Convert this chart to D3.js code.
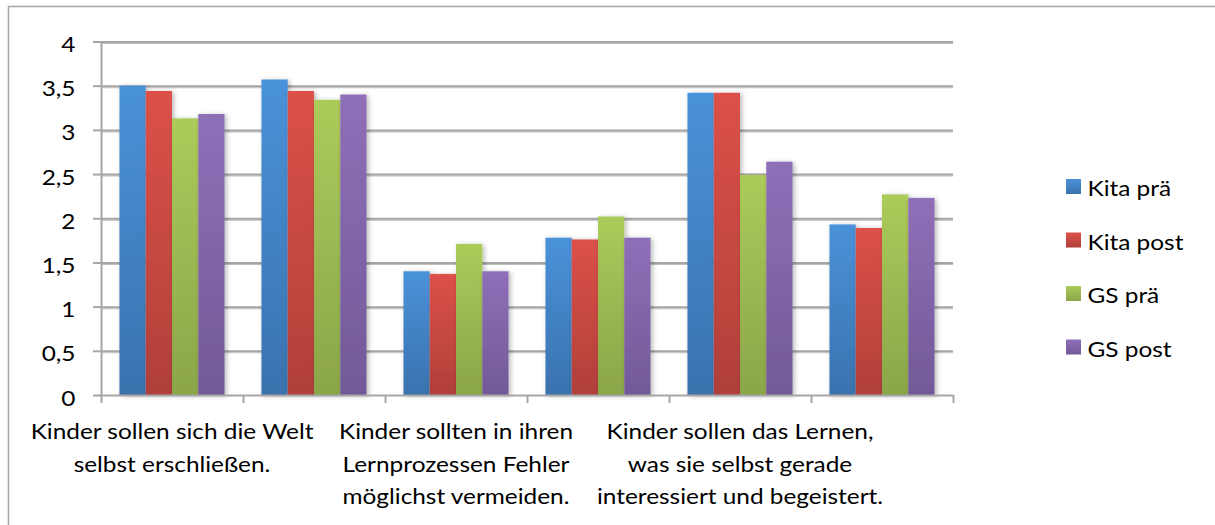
<!DOCTYPE html>
<html>
<head>
<meta charset="utf-8">
<script src="https://cdn.jsdelivr.net/npm/d3@7/dist/d3.min.js"></script>
<style>
  html, body { margin: 0; padding: 0; background: #fff; }
  svg { display: block; }
  text { font-family: Lato, "Open Sans", sans-serif; fill: #000; }
</style>
</head>
<body>
<svg id="chart" width="1215" height="525"></svg>
<script>
// ---- data ----
const categories = ["c1", "c2", "c3", "c4", "c5", "c6"];
const categoryLabels = [
  ["Kinder sollen sich die Welt", "selbst erschließen."],
  null,
  ["Kinder sollten in ihren", "Lernprozessen Fehler", "möglichst vermeiden."],
  null,
  ["Kinder sollen das Lernen,", "was sie selbst gerade", "interessiert und begeistert."],
  null
];
const seriesNames = ["Kita prä", "Kita post", "GS prä", "GS post"];
const kitaPrae  = [3.50, 3.57, 1.40, 1.78, 3.42, 1.93];
const kitaPost  = [3.44, 3.44, 1.37, 1.76, 3.42, 1.89];
const gsPrae    = [3.13, 3.34, 1.71, 2.02, 2.49, 2.27];
const gsPost    = [3.18, 3.40, 1.40, 1.78, 2.64, 2.23];
const yTicks = [0, 0.5, 1, 1.5, 2, 2.5, 3, 3.5, 4];

const seriesValues = [kitaPrae, kitaPost, gsPrae, gsPost];
const colorsTop = ["#4a92d9", "#dc5148", "#abcb5a", "#8f6fb8"];
const colorsBot = ["#3a72ae", "#b0403a", "#8ba54a", "#725998"];

// ---- layout ----
const svg = d3.select("#chart");
const pLeft = 101, pRight = 953, pTop = 41.5, pBottom = 395;
const FS = "20.5px", SX = 1.19;

// outer frame
svg.append("path")
  .attr("d", "M8.5,525 L8.5,6.5 L1215,6.5")
  .attr("fill", "none").attr("stroke", "#a8a8a8").attr("stroke-width", 1.5);

const defs = svg.append("defs");
seriesNames.forEach((s, i) => {
  const g = defs.append("linearGradient").attr("id", "g" + i)
    .attr("x1", 0).attr("y1", 0).attr("x2", 0).attr("y2", 1);
  g.append("stop").attr("offset", "0%").attr("stop-color", colorsTop[i]);
  g.append("stop").attr("offset", "100%").attr("stop-color", colorsBot[i]);
});
const f = defs.append("filter").attr("id", "shadow")
  .attr("x", "-20%").attr("y", "-10%").attr("width", "160%").attr("height", "130%");
f.append("feDropShadow").attr("dx", 2).attr("dy", 1).attr("stdDeviation", 2.5)
  .attr("flood-color", "#000").attr("flood-opacity", 0.28);
const gf = defs.append("filter").attr("id", "gshadow")
  .attr("x", "-5%").attr("y", "-5%").attr("width", "110%").attr("height", "110%");
gf.append("feDropShadow").attr("dx", 0).attr("dy", 1).attr("stdDeviation", 0.6)
  .attr("flood-color", "#000").attr("flood-opacity", 0.25);

const y = d3.scaleLinear().domain([0, 4]).range([pBottom, pTop]);
const x0 = d3.scaleBand().domain(categories).range([pLeft, pRight])
  .paddingInner(0.26).paddingOuter(0.13);
const x1 = d3.scaleBand().domain(seriesNames).range([0, x0.bandwidth()]);
const xb = d3.scaleLinear().domain([0, categories.length]).range([pLeft, pRight]);

const locale = d3.formatLocale({decimal: ",", thousands: ".", grouping: [3], currency: ["", "€"]});
const fmt = locale.format("");

// gridlines
const grid = svg.append("g").attr("transform", `translate(${pLeft},0)`)
  .attr("filter", "url(#gshadow)")
  .call(d3.axisLeft(y).tickValues(yTicks.filter(d => d > 0)).tickSize(-(pRight - pLeft)).tickFormat(""));
grid.select(".domain").remove();
grid.selectAll("line").attr("stroke", "#a6a6a6").attr("stroke-width", 2);

// bars
const groups = svg.append("g").selectAll("g")
  .data(categories).join("g")
  .attr("transform", d => `translate(${x0(d)},0)`);
groups.selectAll("rect")
  .data((d, ci) => seriesNames.map((s, si) => ({s, si, v: seriesValues[si][ci]})))
  .join("rect")
  .attr("x", d => x1(d.s))
  .attr("width", x1.bandwidth())
  .attr("y", d => y(d.v))
  .attr("height", d => y(0) - y(d.v))
  .attr("fill", d => `url(#g${d.si})`)
  .attr("filter", "url(#shadow)");

// y axis
const ya = svg.append("g").attr("transform", `translate(${pLeft},0)`)
  .call(d3.axisLeft(y).tickValues(yTicks).tickSize(8).tickSizeOuter(0).tickFormat(d => fmt(d)));
ya.select(".domain").attr("stroke", "#a6a6a6").attr("stroke-width", 2);
ya.selectAll("line").attr("stroke", "#a6a6a6").attr("stroke-width", 2);
ya.selectAll("text")
  .attr("x", 0).attr("dy", null).attr("y", 0)
  .attr("transform", `translate(-25.5,10) scale(${SX},1)`)
  .style("font-size", FS).style("font-family", "Lato, sans-serif").attr("fill", "#000");

// x axis
const xa = svg.append("g").attr("transform", `translate(0,${pBottom})`)
  .call(d3.axisBottom(xb).tickValues(d3.range(categories.length + 1)).tickSize(8).tickSizeOuter(0).tickFormat(""));
xa.select(".domain").attr("stroke", "#a6a6a6").attr("stroke-width", 2);
xa.selectAll("line").attr("stroke", "#a6a6a6").attr("stroke-width", 2);

// category labels
const lab = svg.append("g");
categories.forEach((c, i) => {
  const lines = categoryLabels[i];
  if (!lines) return;
  const cx = x0(c) + x0.bandwidth() / 2;
  lines.forEach((ln, k) => {
    lab.append("text").attr("text-anchor", "middle").style("font-size", FS)
      .attr("transform", `translate(${cx},${439 + k * 32.5}) scale(${SX},1)`)
      .text(ln);
  });
});

// legend
const lg = svg.append("g");
seriesNames.forEach((s, i) => {
  const base = 196 + i * 53.5;
  lg.append("rect").attr("x", 1066).attr("y", base - 17).attr("width", 15).attr("height", 15)
    .attr("fill", `url(#g${i})`);
  lg.append("text").style("font-size", FS)
    .attr("transform", `translate(1087.5,${base}) scale(${SX},1)`).text(s);
});
</script>
</body>
</html>
